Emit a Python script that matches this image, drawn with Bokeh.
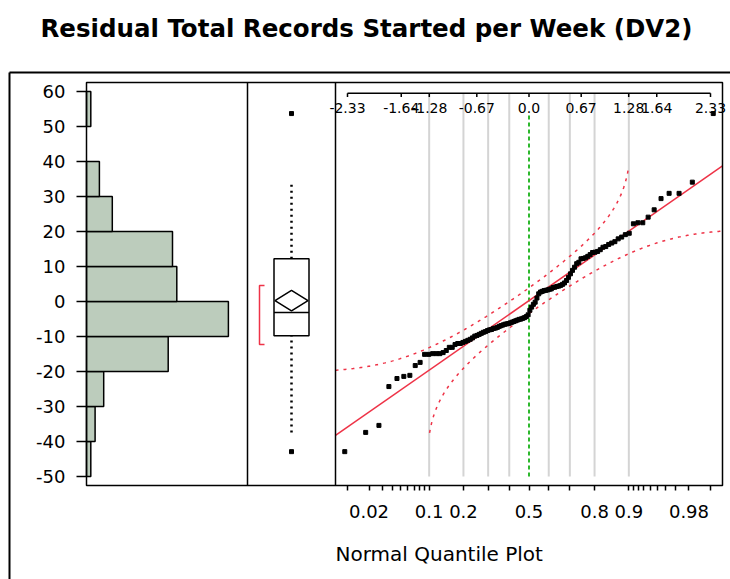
from statistics import NormalDist

import numpy as np
from bokeh.core.properties import value
from bokeh.embed import file_html
from bokeh.models import FixedTicker, Range1d
from bokeh.plotting import figure
from bokeh.resources import INLINE

# ---------------------------------------------------------------- data
# Residuals (sorted ascending), n = 110
residuals = [
    -42.9, -37.4, -35.4, -24.3, -22.0, -21.4, -21.1, -18.3, -17.4, -15.1,
    -15.1, -14.9, -14.9, -14.9, -14.6, -14.0, -13.1, -13.1, -12.3, -12.0,
    -12.0, -11.7, -11.4, -11.1, -10.8, -10.4,
    -9.9, -9.7, -9.4, -9.1, -8.8, -8.6, -8.3, -8.1, -8.0, -7.7,
    -7.6, -7.4, -7.1, -6.9, -6.7, -6.5, -6.4, -6.3, -6.1, -5.9,
    -5.7, -5.5, -5.3, -5.1, -5.0, -4.8, -4.6, -4.3, -3.8, -2.5,
    -1.6, -0.8, -0.2,
    1.0, 2.2, 2.7, 2.9, 3.1, 3.2, 3.3, 3.5, 3.6, 4.0,
    4.1, 4.3, 4.4, 4.6, 4.9, 5.3, 6.0, 6.9, 7.9, 8.9, 9.8,
    10.8, 11.2, 12.2, 12.3, 12.5, 12.9, 13.4, 14.0, 14.1, 14.3,
    14.8, 15.5, 15.7, 16.3, 16.7, 17.1, 17.9, 18.4, 19.1, 19.5,
    22.2, 22.5, 22.5, 24.1, 26.2, 29.4, 30.9, 30.9, 34.1, 53.7,
]

bin_edges = [-50, -40, -30, -20, -10, 0, 10, 20, 30, 40, 50, 60]
value_ticks = [-50, -40, -30, -20, -10, 0, 10, 20, 30, 40, 50, 60]

# normal-quantile scale printed along the top of the quantile plot
top_quantiles = [-2.33, -1.64, -1.28, -0.67, 0.0, 0.67, 1.28, 1.64, 2.33]
top_labels = ["-2.33", "-1.64", "-1.28", "-0.67", "0.0", "0.67", "1.28", "1.64", "2.33"]

# probability scale along the bottom
prob_ticks = [0.01, 0.02, 0.03, 0.04, 0.05, 0.06, 0.07, 0.08, 0.09, 0.1,
              0.2, 0.3, 0.4, 0.5, 0.6, 0.7, 0.8, 0.9,
              0.91, 0.92, 0.93, 0.94, 0.95, 0.96, 0.97, 0.98, 0.99]
prob_labels = {0.02: "0.02", 0.1: "0.1", 0.2: "0.2", 0.5: "0.5",
               0.8: "0.8", 0.9: "0.9", 0.98: "0.98"}
grid_probs = [0.1, 0.2, 0.3, 0.4, 0.6, 0.7, 0.8, 0.9]

# half-width (in probability) of the Lilliefors confidence band
band_d = 0.0935

TITLE = "Residual Total Records Started per Week (DV2)"
QQ_LABEL = "Normal Quantile Plot"

# ---------------------------------------------------------------- stats
nd = NormalDist()
vals = np.array(residuals)
n = len(vals)
mean = vals.mean()
sd = vals.std(ddof=1)
q1, med, q3 = np.quantile(vals, [0.25, 0.5, 0.75], method="weibull")
iqr = q3 - q1
inside = vals[(vals >= q1 - 1.5 * iqr) & (vals <= q3 + 1.5 * iqr)]
wlo, whi = inside.min(), inside.max()
outliers = vals[(vals < wlo) | (vals > whi)]
ci = 1.982 * sd / np.sqrt(n)
half = n // 2
widths = vals[half - 1:] - vals[: n - half + 1]
k = int(np.argmin(widths))
sh_lo, sh_hi = vals[k], vals[k + half - 1]

counts, _ = np.histogram(vals, bins=bin_edges)
z_pts = [nd.inv_cdf((i + 1) / (n + 1)) for i in range(n)]

# ---------------------------------------------------------------- geometry (px)
W, H = 730, 579
OUT_L, OUT_T = 9, 72                    # outer report frame
PAN_L, PAN_R, PAN_T, PAN_B = 86, 722, 82, 485
SEP_1, SEP_2 = 247, 335                 # histogram | box | quantile plot
BOX_CX = 291
PX_PER_V = 3.5                          # value axis scale
V0_PX = 301                             # pixel row of value 0
PX_PER_COUNT = 4.3
Z_EDGE = 2.484                          # quantile-plot half range
PX_PER_Z = (PAN_R - SEP_2) / (2 * Z_EDGE)
Z0_PX = (PAN_R + SEP_2) / 2


def v_at(px):
    return (V0_PX - px) / PX_PER_V


def z_at(px):
    return (px - Z0_PX) / PX_PER_Z


def c_at(px):
    return (px - PAN_L) / PX_PER_COUNT


def u_at(px):
    return px - BOX_CX


FONT = "DejaVu Sans"
RED = "#EE3347"

p = figure(
    width=W, height=H, title=None,
    x_range=Range1d(z_at(0), z_at(W)),
    y_range=Range1d(v_at(H), v_at(0)),
    output_backend="svg", toolbar_location=None,
    min_border_left=0, min_border_right=0,
    min_border_top=0, min_border_bottom=0,
)
p.extra_x_ranges = {
    "hist": Range1d(c_at(0), c_at(W)),
    "box": Range1d(u_at(0), u_at(W)),
}
p.xgrid.visible = False
p.ygrid.visible = False
p.outline_line_color = None
p.background_fill_color = "white"
p.border_fill_color = "white"

Y_LO, Y_HI = v_at(PAN_B), v_at(PAN_T)

# left value axis, pinned to the histogram's baseline
ya = p.yaxis[0]
ya.fixed_location = z_at(PAN_L)
ya.ticker = FixedTicker(ticks=value_ticks)
ya.major_label_overrides = {t: str(t) for t in value_ticks}
ya.major_tick_out = 10
ya.major_tick_in = 0
ya.minor_tick_out = 0
ya.minor_tick_in = 0
ya.axis_line_color = None
ya.major_tick_line_width = 1.5
ya.major_label_text_font = FONT
ya.major_label_text_font_size = "18px"
ya.major_label_text_color = "black"
ya.major_label_standoff = 11

# bottom probability axis, pinned to the panel bottom
z_ticks = [round(nd.inv_cdf(pr), 6) for pr in prob_ticks]
xa = p.xaxis[0]
xa.fixed_location = Y_LO
xa.ticker = FixedTicker(ticks=z_ticks)
xa.major_label_overrides = {
    zt: prob_labels.get(pr, "") for zt, pr in zip(z_ticks, prob_ticks)
}
xa.major_tick_out = 5
xa.major_tick_in = 0
xa.minor_tick_out = 0
xa.minor_tick_in = 0
xa.axis_line_color = None
xa.major_tick_line_width = 1.5
xa.major_label_text_font = FONT
xa.major_label_text_font_size = "18px"
xa.major_label_text_color = "black"
xa.major_label_standoff = 14

# ---------------------------------------------------------------- title & outer frame
p.text(x=[u_at(366)], y=[v_at(28)], text=[TITLE], x_range_name="box",
       text_font=value(FONT), text_font_size="24.5px", text_font_style="bold",
       text_align="center", text_baseline="middle", text_color="black")
p.segment(x0=u_at(OUT_L), y0=v_at(OUT_T), x1=u_at(W + 5), y1=v_at(OUT_T),
          x_range_name="box", line_color="black", line_width=2)
p.segment(x0=u_at(OUT_L), y0=v_at(OUT_T), x1=u_at(OUT_L), y1=v_at(H + 5),
          x_range_name="box", line_color="black", line_width=2)

# ---------------------------------------------------------------- histogram
lows = np.array(bin_edges[:-1])
highs = np.array(bin_edges[1:])
nz = counts > 0
p.quad(left=0, right=counts[nz], bottom=lows[nz], top=highs[nz],
       x_range_name="hist", fill_color="#BCCCBC", line_color="black",
       line_width=1.5)

# ---------------------------------------------------------------- box plot
BOX_HALF = 17.5
p.segment(x0=0, y0=[q3, wlo], x1=0, y1=[whi, q1], x_range_name="box",
          line_color="black", line_width=2.5, line_dash="2 4")
p.quad(left=-BOX_HALF, right=BOX_HALF, bottom=q1, top=q3, x_range_name="box",
       fill_color="white", line_color="black", line_width=1.5)
p.segment(x0=-BOX_HALF, y0=med, x1=BOX_HALF, y1=med, x_range_name="box",
          line_color="black", line_width=1.5)
p.patch(x=[-BOX_HALF + 1, 0, BOX_HALF - 1, 0],
        y=[mean, mean + ci, mean, mean - ci], x_range_name="box",
        fill_alpha=0, line_color="black", line_width=1.5)
p.scatter(x=[0] * len(outliers), y=outliers, marker="square", size=4,
          x_range_name="box", color="black")
p.line(x=[-27, -32, -32, -27], y=[sh_hi, sh_hi, sh_lo, sh_lo],
       x_range_name="box", line_color=RED, line_width=1.5)

# ---------------------------------------------------------------- quantile plot
AX_Y = 59.5
for g in grid_probs:
    zg = nd.inv_cdf(g)
    p.segment(x0=zg, y0=-50, x1=zg, y1=AX_Y, line_color="#D4D4D4", line_width=2)
p.segment(x0=0, y0=-50, x1=0, y1=53.5, line_color="#2DB82D", line_width=2,
          line_dash="4 3")

# Lilliefors confidence bands
p_lo, p_hi = nd.cdf(-Z_EDGE), nd.cdf(Z_EDGE)
zz = np.linspace(-Z_EDGE, Z_EDGE, 400)
pp = np.array([nd.cdf(z) for z in zz])
up_mask = pp + band_d <= p_hi
lo_mask = pp - band_d >= p_lo
up_y = [mean + sd * nd.inv_cdf(v + band_d) for v in pp[up_mask]]
lo_y = [mean + sd * nd.inv_cdf(v - band_d) for v in pp[lo_mask]]
p.line(zz[up_mask], up_y, line_color=RED, line_width=1.5, line_dash="3 5")
p.line(zz[lo_mask], lo_y, line_color=RED, line_width=1.5, line_dash="3 5")

# fitted normal line
p.line([-Z_EDGE, Z_EDGE], [mean - sd * Z_EDGE, mean + sd * Z_EDGE],
       line_color=RED, line_width=1.5)

p.scatter(x=z_pts, y=vals, marker="square", size=4, color="black")

# normal-quantile scale along the top
p.segment(x0=top_quantiles[0], y0=AX_Y, x1=top_quantiles[-1], y1=AX_Y,
          line_color="black", line_width=1.5)
p.segment(x0=top_quantiles, y0=AX_Y, x1=top_quantiles, y1=AX_Y - 1.1,
          line_color="black", line_width=1.5)
p.text(x=top_quantiles, y=AX_Y, text=top_labels, text_font=value(FONT),
       text_font_size="14px", text_align="center", text_baseline="top",
       y_offset=10, text_color="black")

# ---------------------------------------------------------------- panel borders
p.quad(left=u_at(PAN_L), right=u_at(PAN_R), bottom=Y_LO, top=Y_HI,
       x_range_name="box", fill_alpha=0, line_color="black", line_width=1.5)
p.segment(x0=[u_at(SEP_1), u_at(SEP_2)], y0=Y_LO,
          x1=[u_at(SEP_1), u_at(SEP_2)], y1=Y_HI, x_range_name="box",
          line_color="black", line_width=1.5)

# axis title under the quantile plot
p.text(x=[z_at(SEP_2)], y=[v_at(553)], text=[QQ_LABEL], text_font=value(FONT),
       text_font_size="20px", text_align="left", text_baseline="middle",
       text_color="black")

open("out.html", "w").write(file_html(p, INLINE))
